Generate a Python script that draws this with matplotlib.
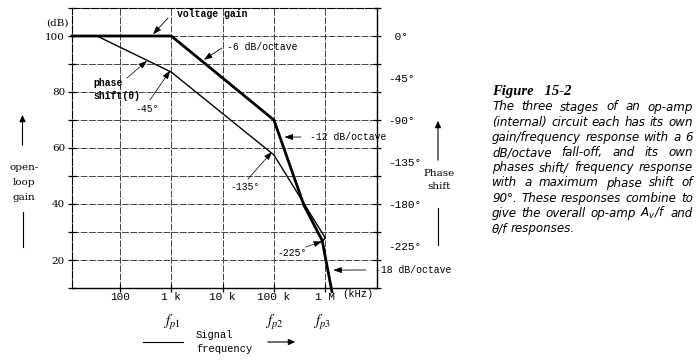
import matplotlib
matplotlib.use("Agg")
import matplotlib.pyplot as plt
import numpy as np

W, H = 696, 362

# ---------------- data ----------------
freq_ticks = [100, 1e3, 1e4, 1e5, 1e6]
freq_tick_labels = ["100", "1 k", "10 k", "100 k", "1 M"]
pole_labels = [r"$f_{p1}$", r"$f_{p2}$", r"$f_{p3}$"]
pole_freqs = [1e3, 1e5, 1e6]
gain_ticks = [100, 80, 60, 40, 20]
gain_grid = [20, 30, 40, 50, 60, 70, 80, 90, 100]
phase_ticks = [0, -45, -90, -135, -180, -225]
phase_tick_labels = [" 0°", "-45°", "-90°", "-135°", "-180°", "-225°"]

gain_freq = [11.6, 1e3, 1e5, 3.85e5, 8.7e5, 1.35e6]
gain_db = [100, 100, 70, 39.5, 27, 8.7]
phase_freq = [35.6, 1e3, 1e5, 1e6, 8.7e5]
phase_deg = [0, -38.7, -127.5, -216.3, -220.5]

caption_title = "Figure   15-2"
caption_lines = [
    "The three stages of an op-amp",
    "(internal) circuit each has its own",
    "gain/frequency response with a 6",
    "dB/octave fall-off, and its own",
    "phases shift/ frequency response",
    "with a maximum phase shift of",
    "90°. These responses combine to",
    "give the overall op-amp $A_v$/f and",
    "θ/f responses.",
]

MONO = "Liberation Mono"
SERIF = "DejaVu Serif"

fig = plt.figure(figsize=(W / 100, H / 100), dpi=100)
fig.patch.set_facecolor("white")

def fx(x):
    return x / W

def fy(y):
    return 1 - y / H

ax_l, ax_r, ax_t, ax_b = 72, 377, 8, 288
ax = fig.add_axes([fx(ax_l), fy(ax_b), (ax_r - ax_l) / W, (ax_b - ax_t) / H])
ax.set_xscale("log")
ax.set_xlim(11.6, 1.02e7)
ax.set_ylim(10, 110)

ax2 = ax.twinx()
ax2.set_ylim(3 * (10 - 100), 3 * (110 - 100))

gridkw = dict(color="#444444", lw=0.7, ls=(0, (7, 1.5)), zorder=1)
for g in gain_grid:
    ax.axhline(g, **gridkw)
for f in freq_ticks:
    ax.axvline(f, **gridkw)

for s in ["top", "left"]:
    ax.spines[s].set_linestyle((0, (7, 1.5)))
    ax.spines[s].set_linewidth(0.8)
for s in ["bottom", "right"]:
    ax.spines[s].set_linewidth(1.0)
for s in ax2.spines.values():
    s.set_visible(False)

ax.set_xticks(freq_ticks)
ax.set_xticklabels(freq_tick_labels, fontfamily=MONO, fontsize=8)
ax.xaxis.set_minor_locator(matplotlib.ticker.NullLocator())
ax.tick_params(axis="x", direction="inout", length=6, width=0.9, pad=0)

ax.set_yticks(list(range(10, 111, 10)))
ax.set_yticklabels([str(v) if v in gain_ticks else "" for v in range(10, 111, 10)],
                   fontfamily=SERIF, fontsize=7.5)
ax.tick_params(axis="y", direction="inout", length=6, width=0.9, pad=2,
               right=True)

ax2.set_yticks(phase_ticks)
ax2.set_yticklabels(phase_tick_labels, fontfamily=MONO, fontsize=8)
ax2.tick_params(axis="y", length=0, pad=8)

# curves
ax.plot(gain_freq, gain_db, color="black", lw=2.0, solid_joinstyle="round",
        zorder=3, clip_on=False)
ax2.plot(phase_freq, phase_deg, color="black", lw=1.0, zorder=3)

# annotations
def ann(text, tip, tip_ax, txt_px, tail_px, ls="-", **tk):
    fig.text(fx(txt_px[0]), fy(txt_px[1]), text, va="center", ha="left",
             fontfamily=MONO, fontsize=7, **tk)
    tip_ax.annotate("", xy=tip, xycoords="data",
                    xytext=(tail_px[0], H - tail_px[1]), textcoords="figure pixels",
                    arrowprops=dict(arrowstyle="-|>,head_length=0.5,head_width=0.18",
                                    lw=0.6, color="black", ls=ls,
                                    shrinkA=0, shrinkB=0))

ann("voltage gain", (440, 100.6), ax, (177, 14), (168, 18), fontweight="bold")
ann("-6 dB/octave", (4300, 91.5), ax, (227, 47), (222, 48))
ann("-12 dB/octave", (1.6e5, 63.9), ax, (310, 137), (301, 137))
ann("-18 dB/octave", (1.43e6, 16.4), ax, (375, 270), (366, 270))
ann("-45°", (950, -37.0), ax2, (135, 109), (150, 100), ls=(0, (2, 1)))
ann("-135°", (9.2e4, -124), ax2, (230, 187), (248, 179), ls=(0, (2, 1)))
ann("-225°", (8.7e5, -220), ax2, (277, 253), (306, 247), ls=(0, (1, 1)))
fig.text(fx(93), fy(83), "phase", va="center", ha="left", fontfamily=MONO,
         fontsize=7, fontweight="bold")
fig.text(fx(93), fy(96), "shift(θ)", va="center", ha="left", fontfamily=MONO,
         fontsize=7, fontweight="bold")
ax2.annotate("", xy=(336, -26.5), xycoords="data", xytext=(127, H - 78),
             textcoords="figure pixels",
             arrowprops=dict(arrowstyle="-|>,head_length=0.5,head_width=0.18",
                             lw=0.6, color="black", ls=(0, (2, 1)),
                             shrinkA=0, shrinkB=0))

# left labels
fig.text(fx(57), fy(23), "(dB)", fontfamily=SERIF, fontsize=7.5, ha="center", va="center")
for i, t in enumerate(["open-", "loop", "gain"]):
    fig.text(fx(24), fy(167 + 15 * i), t, fontfamily=SERIF, fontsize=7.5,
             ha="center", va="center")
fig.add_artist(matplotlib.patches.FancyArrowPatch(
    (fx(22.5), fy(148)), (fx(22.5), fy(112)), transform=fig.transFigure,
    arrowstyle="-|>,head_length=4,head_width=1.8", lw=0.8, color="black"))
fig.add_artist(matplotlib.lines.Line2D([fx(22.5), fx(22.5)], [fy(212), fy(247)],
                                       transform=fig.transFigure, lw=0.8, color="black"))

# right labels
for i, t in enumerate(["Phase", "shift"]):
    fig.text(fx(439), fy(173 + 14 * i), t, fontfamily=SERIF, fontsize=7.5,
             ha="center", va="center")
fig.add_artist(matplotlib.patches.FancyArrowPatch(
    (fx(438), fy(163)), (fx(438), fy(118)), transform=fig.transFigure,
    arrowstyle="-|>,head_length=4,head_width=1.8", lw=0.8, color="black"))
fig.add_artist(matplotlib.lines.Line2D([fx(438), fx(438)], [fy(208), fy(245)],
                                       transform=fig.transFigure, lw=0.8, color="black"))

# bottom labels
fig.text(fx(358), fy(294), "(kHz)", fontfamily=MONO, fontsize=7.5, ha="center", va="center")
for lab, f in zip(pole_labels, pole_freqs):
    ax.annotate(lab, xy=(f, 0), xycoords=("data", "axes fraction"),
                xytext=(-3 if f == 1e6 else 0, -34), textcoords="offset pixels",
                ha="center", va="center", fontsize=10.5, math_fontfamily="stix")
fig.text(fx(196), fy(335), "Signal", fontfamily=MONO, fontsize=7.5, ha="left", va="center")
fig.text(fx(196), fy(349), "frequency", fontfamily=MONO, fontsize=7.5, ha="left", va="center")
fig.add_artist(matplotlib.lines.Line2D([fx(143), fx(183)], [fy(342), fy(342)],
                                       transform=fig.transFigure, lw=0.8, color="black"))
fig.add_artist(matplotlib.patches.FancyArrowPatch(
    (fx(265), fy(342)), (fx(298), fy(342)), transform=fig.transFigure,
    arrowstyle="-|>,head_length=4,head_width=1.8", lw=0.8, color="black"))

# caption
CAP = "DejaVu Sans"
fig.text(fx(492), fy(92), caption_title, fontfamily="Liberation Serif", fontsize=10.5,
         fontweight="bold", fontstyle="italic", ha="left", va="center")
x0, x1 = 492, 693
y0, dy = 107, 15.2
word_texts = []
for i, line in enumerate(caption_lines):
    words = line.split(" ")
    ts = [fig.text(fx(x0), fy(y0 + dy * i), w, fontfamily=CAP, fontstyle="oblique",
                   fontsize=8.6, ha="left", va="center", math_fontfamily="dejavusans")
          for w in words]
    word_texts.append(ts)
fig.canvas.draw()
r = fig.canvas.get_renderer()
for i, ts in enumerate(word_texts):
    widths = [t.get_window_extent(r).width for t in ts]
    if i == len(word_texts) - 1 or len(ts) == 1:
        sp = 3.5
    else:
        sp = (x1 - x0 - sum(widths)) / (len(ts) - 1)
    x = x0
    for t, w in zip(ts, widths):
        t.set_x(fx(x))
        x += w + sp

fig.savefig("out.png", dpi=100)
